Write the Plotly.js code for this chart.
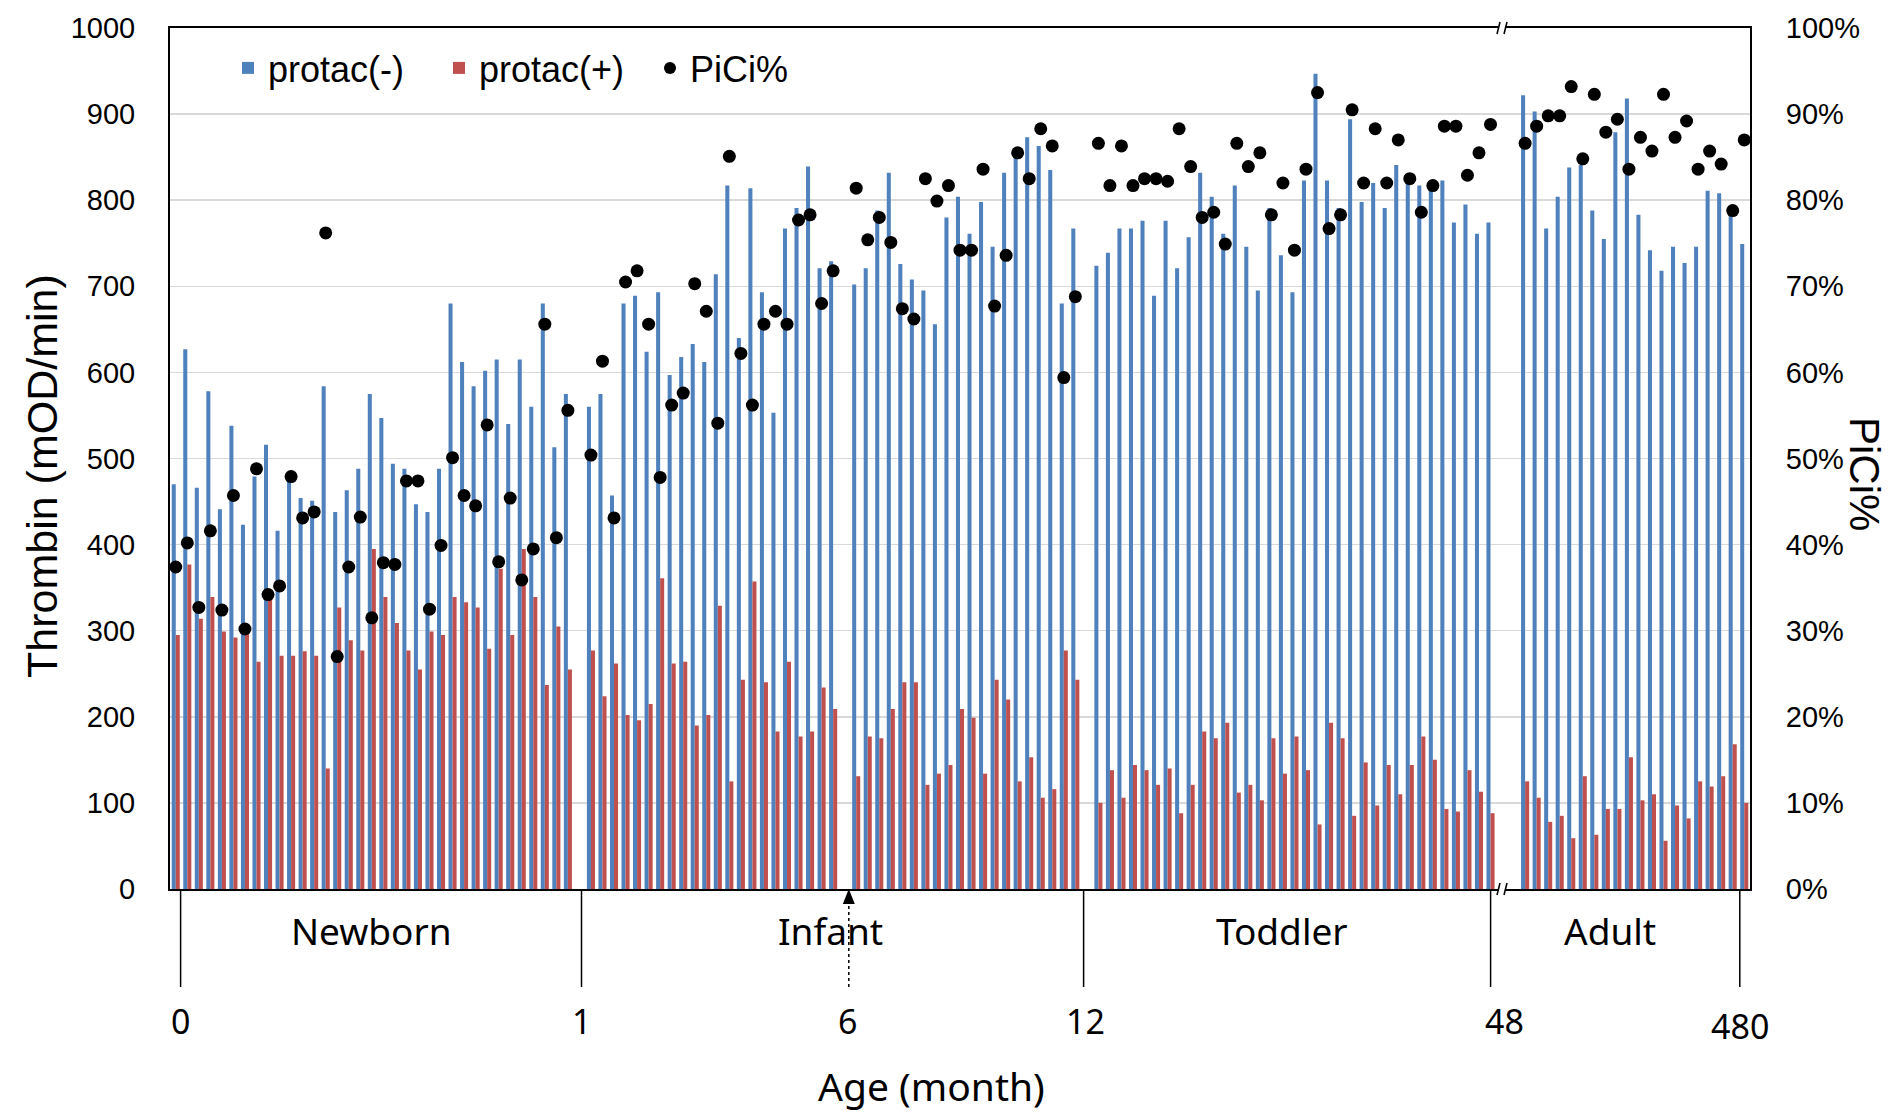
<!DOCTYPE html>
<html>
<head>
<meta charset="utf-8">
<script src="https://cdn.plot.ly/plotly-3.0.1.min.js"></script>
<style>
  html, body { margin: 0; padding: 0; background: #fff; }
  #chart { width: 1888px; height: 1115px; }
</style>
</head>
<body>
<div id="chart"></div>
<script>
// ---------------- DATA ----------------
// Thrombin generation, protac(-) / protac(+) [mOD/min], PiCi [%]
const newbornMinus = [470,627,466,578,441,538,423,479,516,416,478,454,451,584,438,463,488,575,547,494,488,447,438,488,680,612,584,602,615,540,615,560,680,513,575];
const newbornPlus  = [295,377,314,339,299,292,300,264,338,271,271,276,271,140,327,289,277,395,339,309,277,255,299,295,339,333,327,279,372,295,395,339,237,305,255];
const newbornPiCi  = [37.4,40.2,32.7,41.6,32.4,45.7,30.2,48.8,34.2,35.2,47.9,43.1,43.8,76.2,27.0,37.4,43.2,31.5,37.9,37.7,47.4,47.4,32.5,39.9,50.1,45.7,44.5,53.9,38.0,45.4,35.9,39.5,65.6,40.8,55.6];

const infantEarlyMinus = [560,575,457,680,689,624,693,597,618,633,612,714,817,640,814,693,553,767,791,839,721,729];
const infantEarlyPlus  = [277,224,262,202,196,215,361,262,264,190,202,329,125,243,357,240,183,264,177,183,234,209];
const infantEarlyPiCi  = [50.4,61.3,43.1,70.5,71.8,65.6,47.8,56.2,57.6,70.3,67.1,54.1,85.1,62.2,56.2,65.6,67.1,65.6,77.7,78.3,68.0,71.8];

const infantLateMinus = [702,721,788,832,726,708,695,656,780,804,761,798,746,832,850,873,863,835,680,767];
const infantLatePlus  = [131,177,175,209,240,240,121,134,144,209,199,134,243,220,125,153,106,116,277,243];
const infantLatePiCi  = [81.4,75.4,78.0,75.1,67.4,66.2,82.5,79.9,81.7,74.2,74.2,83.6,67.7,73.6,85.5,82.5,88.3,86.3,59.4,68.8];

const toddlerMinus = [724,739,767,767,776,689,776,721,757,832,804,761,817,746,695,791,736,693,823,947,823,791,894,798,820,791,841,820,817,811,823,774,795,761,774];
const toddlerPlus  = [100,138,106,144,138,121,140,88,121,183,175,193,112,121,103,175,134,177,138,75,193,175,85,147,97,144,110,144,177,150,93,90,138,113,88];
const toddlerPiCi  = [86.6,81.7,86.3,81.7,82.5,82.5,82.2,88.3,83.9,78.0,78.6,74.9,86.6,83.9,85.5,78.3,82.0,74.2,83.6,92.5,76.7,78.3,90.5,82.0,88.3,82.0,87.0,82.5,78.6,81.7,88.6,88.6,82.9,85.5,88.8];

const adultMinus = [922,903,767,804,838,841,788,755,879,918,783,742,718,746,727,746,811,808,783,749];
const adultPlus  = [125,106,78,85,59,131,63,93,93,153,103,110,56,97,82,125,119,131,168,100];
const adultPiCi  = [86.6,88.6,89.8,89.8,93.2,84.8,92.3,87.9,89.4,83.6,87.3,85.7,92.3,87.3,89.2,83.6,85.7,84.2,78.8,87.0];

// Category / tick labels
const stageLabels = ['Newborn', 'Infant', 'Toddler', 'Adult'];
const ageTickLabels = ['0', '1', '6', '12', '48', '480'];
const seriesNames = ['protac(-)', 'protac(+)', 'PiCi%'];

// ---------------- BUILD SERIES ----------------
const segments = [
  [newbornMinus, newbornPlus, newbornPiCi],
  [infantEarlyMinus, infantEarlyPlus, infantEarlyPiCi],
  [infantLateMinus, infantLatePlus, infantLatePiCi],
  [toddlerMinus, toddlerPlus, toddlerPiCi],
  [adultMinus, adultPlus, adultPiCi]
];
const emptySlotsAfter = [1, 1, 1, 2, 0];

const xs = [], minus = [], plus = [], pici = [];
let slot = 1;
segments.forEach((seg, s) => {
  seg[0].forEach((v, i) => {
    xs.push(slot++);
    minus.push(seg[0][i]);
    plus.push(seg[1][i]);
    pici.push(seg[2][i]);
  });
  slot += emptySlotsAfter[s];
});
const nSlots = slot - 1;

// ---------------- LAYOUT HELPERS (pixel -> paper) ----------------
const L = 170, R = 1750, T = 28, B = 889;
const px = v => (v - L) / (R - L);
const py = v => (B - v) / (B - T);

const FONT = 'Liberation Sans, Arial, Helvetica, sans-serif';
const FONT2 = 'Noto Sans, DejaVu Sans, sans-serif';

const traces = [
  { type: 'bar', name: seriesNames[0], x: xs, y: minus,
    marker: { color: '#4F81BD' }, yaxis: 'y' },
  { type: 'bar', name: seriesNames[1], x: xs, y: plus,
    marker: { color: '#C0504D' }, yaxis: 'y' },
  { type: 'scatter', mode: 'markers', name: seriesNames[2], x: xs, y: pici,
    marker: { color: '#000000', size: 13 }, yaxis: 'y2' }
];

const shapes = [];
const annotations = [];

// boundary lines under the axis
const boundaryPx = [180.6, 581.5, 1083.6, 1490.6, 1739.8];
boundaryPx.forEach(b => shapes.push({
  type: 'line', xref: 'paper', yref: 'paper',
  x0: px(b), x1: px(b), y0: py(889), y1: py(987),
  line: { color: '#000', width: 1.5 }
}));

// dashed arrow at 6 months
const arrowX = 848.8;
shapes.push({ type: 'line', xref: 'paper', yref: 'paper',
  x0: px(arrowX), x1: px(arrowX), y0: py(900), y1: py(987),
  line: { color: '#000', width: 1.5, dash: 'dot' } });
shapes.push({ type: 'path', xref: 'paper', yref: 'paper',
  path: `M ${px(arrowX)} ${py(889)} L ${px(arrowX - 6)} ${py(904)} L ${px(arrowX + 6)} ${py(904)} Z`,
  fillcolor: '#000', line: { color: '#000', width: 0 } });

// axis break marks (top and bottom)
[28, 889].forEach(yy => {
  shapes.push({ type: 'rect', xref: 'paper', yref: 'paper', layer: 'above',
    x0: px(1498), x1: px(1505), y0: py(yy - 3), y1: py(yy + 3),
    fillcolor: '#fff', line: { width: 0 } });
  [1497, 1504].forEach(sx => shapes.push({
    type: 'line', xref: 'paper', yref: 'paper', layer: 'above',
    x0: px(sx), x1: px(sx + 3), y0: py(yy + 6), y1: py(yy - 6),
    line: { color: '#000', width: 1.5 } }));
});

// stage labels
const stagePx = [371, 830, 1282, 1610];
stageLabels.forEach((t, i) => annotations.push({
  text: t, xref: 'paper', yref: 'paper', x: px(stagePx[i]), y: py(930),
  xanchor: 'center', yanchor: 'middle', showarrow: false,
  font: { family: FONT2, size: 37, color: '#000' }
}));

// age tick labels
const agePx = [180.6, 581.5, 847.6, 1085, 1504, 1740];
const ageY = [1021, 1021, 1021, 1021, 1021, 1026];
ageTickLabels.forEach((t, i) => annotations.push({
  text: t, xref: 'paper', yref: 'paper', x: px(agePx[i]), y: py(ageY[i]),
  xanchor: 'center', yanchor: 'middle', showarrow: false,
  font: { family: FONT2, size: 34, color: '#000' }
}));

// axis titles
annotations.push({ text: 'Age (month)', xref: 'paper', yref: 'paper',
  x: px(931), y: py(1085), xanchor: 'center', yanchor: 'middle', showarrow: false,
  borderpad: 0,
  font: { family: FONT2, size: 39, color: '#000' } });
annotations.push({ text: 'Thrombin (mOD/min)', xref: 'paper', yref: 'paper',
  x: px(42), y: py(476), xanchor: 'center', yanchor: 'middle', showarrow: false,
  textangle: -90, font: { family: FONT, size: 43, color: '#000' } });
annotations.push({ text: 'PiCi%', xref: 'paper', yref: 'paper',
  x: px(1864), y: py(474), xanchor: 'center', yanchor: 'middle', showarrow: false,
  textangle: 90, font: { family: FONT, size: 42, color: '#000' } });

const layout = {
  width: 1888, height: 1115,
  margin: { l: L, r: 1888 - R, t: T, b: 1115 - B, pad: 0 },
  paper_bgcolor: '#fff', plot_bgcolor: '#fff',
  font: { family: FONT, color: '#000', size: 29 },
  barmode: 'group', bargap: 0.3, bargroupgap: 0,
  showlegend: true,
  legend: {
    orientation: 'h', x: px(228), y: py(68), xanchor: 'left', yanchor: 'middle',
    bgcolor: 'rgba(0,0,0,0)', font: { family: FONT, size: 36, color: '#000' },
    entrywidth: 166, entrywidthmode: 'pixels', itemsizing: 'constant'
  },
  xaxis: {
    range: [0.5, nSlots + 0.5], showticklabels: false, ticks: '',
    showgrid: false, zeroline: false,
    showline: true, linecolor: '#000', linewidth: 2, mirror: true
  },
  yaxis: {
    range: [0, 1000], dtick: 100, tick0: 0, ticks: '',
    ticklabelstandoff: 27,
    showgrid: true, gridcolor: '#d9d9d9', gridwidth: 1.5,
    zeroline: false, showline: true, linecolor: '#000', linewidth: 2,
    tickfont: { family: FONT, size: 29, color: '#000' }
  },
  yaxis2: {
    range: [0, 100], dtick: 10, tick0: 0, ticksuffix: '%', ticks: '',
    ticklabelstandoff: 28,
    overlaying: 'y', side: 'right', showgrid: false, zeroline: false,
    showline: true, linecolor: '#000', linewidth: 2,
    tickfont: { family: FONT, size: 29, color: '#000' }
  },
  shapes: shapes,
  annotations: annotations
};

Plotly.newPlot('chart', traces, layout, { displayModeBar: false, staticPlot: true });
</script>
</body>
</html>
